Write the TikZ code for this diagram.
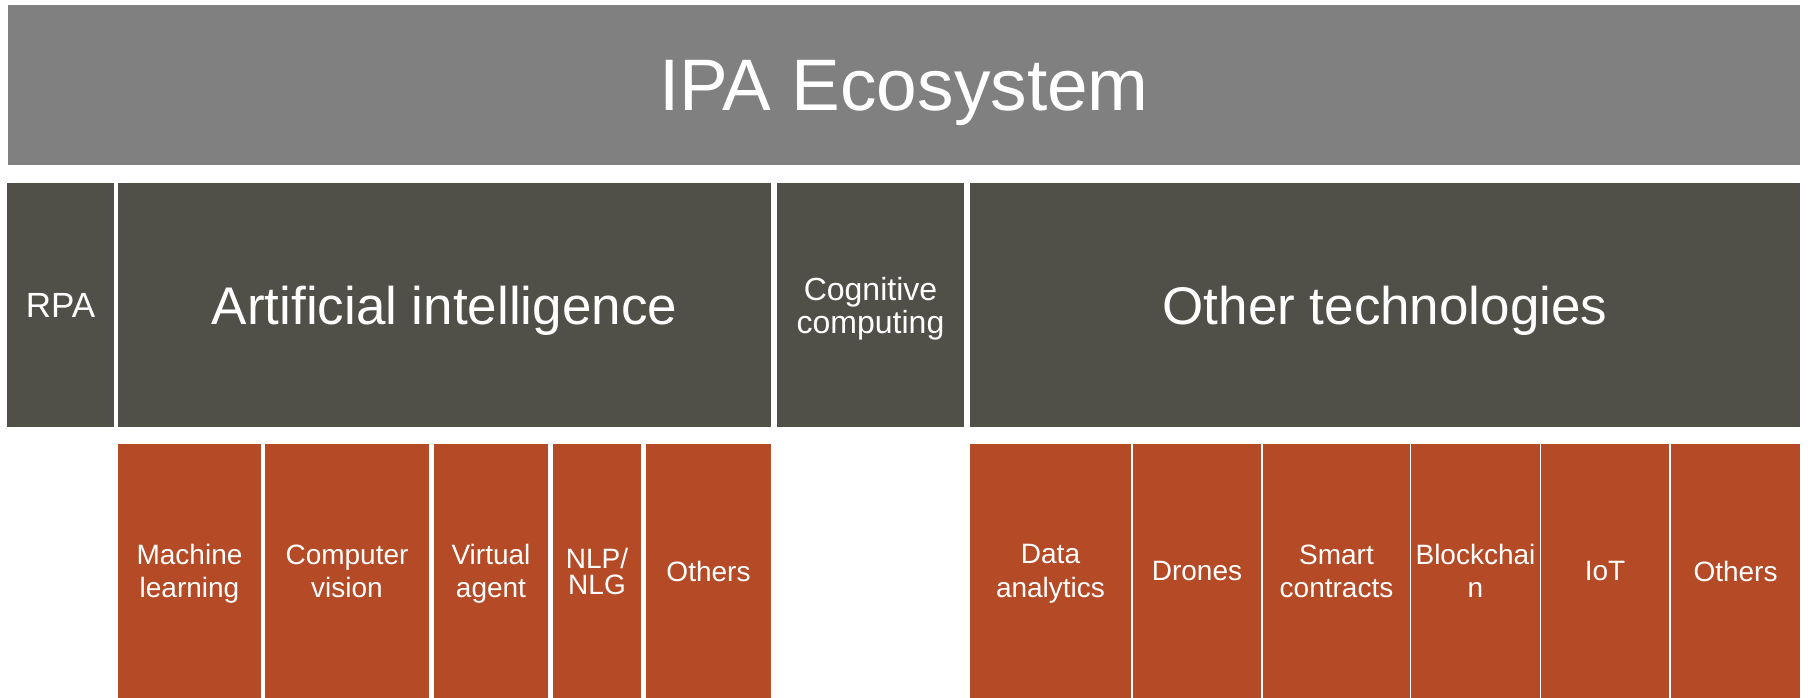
\documentclass[tikz,border=0pt]{standalone}
\usepackage{fontspec}
\setmainfont{Liberation Sans}
\usepackage{xcolor}
\usetikzlibrary{positioning}

\definecolor{titlegray}{RGB}{128,128,128}
\definecolor{darkolive}{RGB}{80,80,72}
\definecolor{rust}{RGB}{180,74,38}

\tikzset{
    topbar/.style={fill=titlegray, text=white, inner sep=0pt, text depth=0pt,
        font=\fontsize{73}{80}\selectfont},
    darkbox/.style={fill=darkolive, text=white, inner sep=0pt, align=center, text depth=0pt,
        minimum height=244pt, font=\fontsize{53}{60}\selectfont},
    subbox/.style={fill=rust, text=white, inner sep=0pt, align=center, text depth=0pt,
        minimum height=254pt, font=\fontsize{28}{33.5}\selectfont}
}

\begin{document}
\begin{tikzpicture}[x=1pt,y=-1pt]
        \useasboundingbox (0,0) rectangle (1810,698);

        % title
        \node[topbar, minimum width=1792pt, minimum height=160pt] (ipa) at (904,85) {IPA Ecosystem};

        % second row
        \node[darkbox, minimum width=107pt, font=\fontsize{35}{40}\selectfont] (rpa) at (60.5,305) {RPA};
        \node[darkbox, minimum width=653pt] (ai) at (444.5,305) {Artificial intelligence};
        \node[darkbox, minimum width=187pt, font=\fontsize{32}{33}\selectfont] (cog) at (870.5,305) {Cognitive\\computing};
        \node[darkbox, minimum width=830pt] (other) at (1385,305) {Other technologies};

        % under artificial intelligence
        \node[subbox, minimum width=143pt] (ml) at (189.5,571) {Machine\\learning};
        \node[subbox, minimum width=164pt] (cv) at (347,571) {Computer\\vision};
        \node[subbox, minimum width=114pt] (va) at (491,571) {Virtual\\agent};
        \node[subbox, minimum width=88pt, font=\fontsize{28}{26}\selectfont] (nlp) at (597,571) {NLP/\\NLG};
        \node[subbox, minimum width=125pt] (aiothers) at (708.5,571) {Others};

        % under other technologies
        \node[subbox, minimum width=161pt] (data) at (1050.5,571) {Data\\analytics};
        \node[subbox, minimum width=128pt] (drones) at (1197,571) {Drones};
        \node[subbox, minimum width=147pt] (smart) at (1336.5,571) {Smart\\contracts};
        \node[subbox, minimum width=129pt] (chain) at (1475.5,571) {Blockchai\\n};
        \node[subbox, minimum width=128pt] (iot) at (1605,571) {IoT};
        \node[subbox, minimum width=129pt] (otothers) at (1735.5,571) {Others};
\end{tikzpicture}
\end{document}
